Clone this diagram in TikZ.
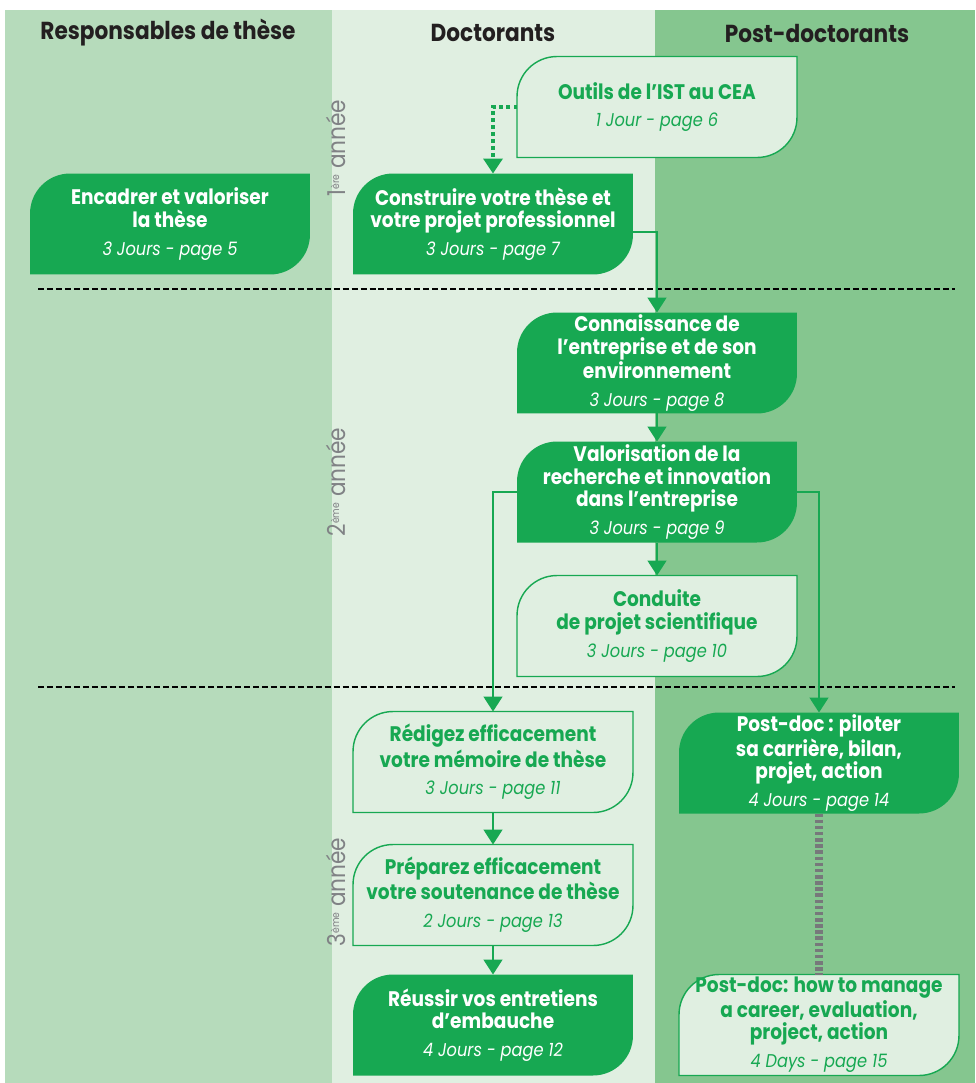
\documentclass[tikz,border=0pt]{standalone}
\usepackage{fontspec}
\setmainfont{Poppins}[FakeStretch=0.88]
\usetikzlibrary{arrows.meta, backgrounds}

\definecolor{ceagreen}{HTML}{17A852}
\definecolor{colone}{HTML}{B6DBBB}
\definecolor{coltwo}{HTML}{E0EFE1}
\definecolor{colthree}{HTML}{85C68F}
\definecolor{yeargray}{HTML}{808285}
\definecolor{headink}{HTML}{231F20}
\definecolor{linkgray}{HTML}{77787B}

\newcommand{\dur}[1]{{\fontsize{10.5}{12}\selectfont\mdseries\itshape #1}}
\newcommand{\yr}[2]{#1{\fontsize{6}{7}\selectfont\raisebox{1.1ex}{#2}} année}

\tikzset{
  course/.style={minimum width=5.6cm, minimum height=2.02cm, inner sep=0pt, outer sep=0pt,
    align=center, font=\fontsize{12}{12.8}\selectfont\bfseries},
  dark/.style={course, text=white},
  pale/.style={course, text=ceagreen},
  flow/.style={draw=ceagreen, line width=0.9pt, -{Triangle[width=0.38cm, length=0.3cm]}},
  head/.style={font=\fontsize{14}{16}\selectfont\bfseries, text=headink},
  year/.style={rotate=90, text=yeargray, font=\fontsize{14}{16}\selectfont},
}

\begin{document}
\begin{tikzpicture}[x=0.02cm, y=0.02cm]
    \useasboundingbox (0,0) rectangle (975,-1083);

    % columns
    \begin{scope}[on background layer]
        \fill[colone] (5,-10) rectangle (332,-1083);
        \fill[coltwo] (332,-10) rectangle (655,-1083);
        \fill[colthree] (655,-10) rectangle (975,-1083);
    \end{scope}

    \node[head] (hresp) at (168,-33) {Responsables de thèse};
    \node[head] (hdoc) at (493,-33) {Doctorants};
    \node[head] (hpost) at (817,-33) {Post-doctorants};

    \node[year] (year1) at (336,-148) {\yr{1}{ère}};
    \node[year] (year2) at (336,-482) {\yr{2}{ème}};
    \node[year] (year3) at (336,-892) {\yr{3}{ème}};

    \draw[black, line width=0.6pt, dash pattern=on 3.4pt off 1.7pt] (38,-289) -- (955,-289);
    \draw[black, line width=0.6pt, dash pattern=on 3.4pt off 1.7pt] (38,-687) -- (955,-687);

    % courses
    \node[pale] (outils) at (657,-107) {Outils de l'IST au CEA\\[3pt]\dur{1 Jour - page 6}};
    \node[dark] (encadrer) at (170,-224) {Encadrer et valoriser\\la thèse\\[3pt]\dur{3 Jours - page 5}};
    \node[dark] (construire) at (493,-224) {Construire votre thèse et\\votre projet professionnel\\[3pt]\dur{3 Jours - page 7}};
    \node[dark] (connaissance) at (657,-363) {Connaissance de\\l'entreprise et de son\\environnement\\[3pt]\dur{3 Jours - page 8}};
    \node[dark] (valorisation) at (657,-492) {Valorisation de la\\recherche et innovation\\dans l'entreprise\\[3pt]\dur{3 Jours - page 9}};
    \node[pale] (conduite) at (657,-626) {Conduite\\de projet scientifique\\[3pt]\dur{3 Jours - page 10}};
    \node[pale] (redigez) at (493,-762) {Rédigez efficacement\\votre mémoire de thèse\\[3pt]\dur{3 Jours - page 11}};
    \node[pale] (preparez) at (493,-895) {Préparez efficacement\\votre soutenance de thèse\\[3pt]\dur{2 Jours - page 13}};
    \node[dark] (reussir) at (493,-1025) {Réussir vos entretiens\\d'embauche\\[3pt]\dur{4 Jours - page 12}};
    \node[dark] (pilot) at (819,-763) {Post-doc : piloter\\sa carrière, bilan,\\projet, action\\[3pt]\dur{4 Jours - page 14}};
    \node[pale] (manage) at (819,-1025) {Post-doc: how to manage\\a career, evaluation,\\project, action\\[3pt]\dur{4 Days - page 15}};

    % box outlines, rounded top left and bottom right
    \begin{scope}[on background layer]
        \foreach \n in {encadrer, construire, connaissance, valorisation, reussir, pilot}
            \fill[ceagreen] (\n.south west) -- ([yshift=-0.8cm]\n.north west)
                arc[start angle=180, end angle=90, radius=0.8cm] -- (\n.north east)
                -- ([yshift=0.8cm]\n.south east) arc[start angle=0, end angle=-90, radius=0.8cm] -- cycle;
        \foreach \n in {outils, conduite, redigez, preparez, manage}
            \draw[ceagreen, fill=coltwo, line width=0.8pt] (\n.south west) -- ([yshift=-0.8cm]\n.north west)
                arc[start angle=180, end angle=90, radius=0.8cm] -- (\n.north east)
                -- ([yshift=0.8cm]\n.south east) arc[start angle=0, end angle=-90, radius=0.8cm] -- cycle;
    \end{scope}

    % connectors
    \draw[flow, line width=2pt, dash pattern=on 2pt off 2pt] (outils.west) -| (construire.north);
    \draw[flow] ([yshift=-0.16cm]construire.east) -| (connaissance.north);
    \draw[flow] (connaissance) -- (valorisation);
    \draw[flow] (valorisation) -- (conduite);
    \draw[flow] (valorisation.west) -| (redigez.north);
    \draw[flow] (valorisation.east) -| (pilot.north);
    \draw[flow] (redigez) -- (preparez);
    \draw[flow] (preparez) -- (reussir);
    \draw[linkgray, line width=4pt, dash pattern=on 2pt off 1.5pt] (pilot) -- (manage);
\end{tikzpicture}
\end{document}
